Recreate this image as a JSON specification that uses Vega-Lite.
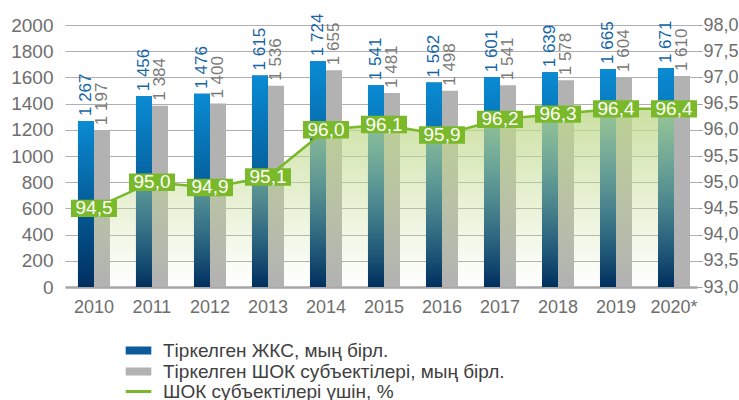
{
  "$schema": "https://vega.github.io/schema/vega-lite/v6.json",
  "width": 632,
  "height": 262,
  "autosize": {"type": "none"},
  "padding": {"left": 65, "top": 25, "right": 42, "bottom": 113},
  "config": {
    "locale": {"number": {"decimal": ",", "thousands": " ", "grouping": [3], "currency": ["", ""]}},
    "view": {"stroke": null},
    "font": "Liberation Sans"
  },
  "datasets": {
    "bars": [
      {"year": "2010", "series": "Тіркелген ЖКС, мың бірл.", "value": 1267},
      {"year": "2010", "series": "Тіркелген ШОК субъектілері, мың бірл.", "value": 1197},
      {"year": "2011", "series": "Тіркелген ЖКС, мың бірл.", "value": 1456},
      {"year": "2011", "series": "Тіркелген ШОК субъектілері, мың бірл.", "value": 1384},
      {"year": "2012", "series": "Тіркелген ЖКС, мың бірл.", "value": 1476},
      {"year": "2012", "series": "Тіркелген ШОК субъектілері, мың бірл.", "value": 1400},
      {"year": "2013", "series": "Тіркелген ЖКС, мың бірл.", "value": 1615},
      {"year": "2013", "series": "Тіркелген ШОК субъектілері, мың бірл.", "value": 1536},
      {"year": "2014", "series": "Тіркелген ЖКС, мың бірл.", "value": 1724},
      {"year": "2014", "series": "Тіркелген ШОК субъектілері, мың бірл.", "value": 1655},
      {"year": "2015", "series": "Тіркелген ЖКС, мың бірл.", "value": 1541},
      {"year": "2015", "series": "Тіркелген ШОК субъектілері, мың бірл.", "value": 1481},
      {"year": "2016", "series": "Тіркелген ЖКС, мың бірл.", "value": 1562},
      {"year": "2016", "series": "Тіркелген ШОК субъектілері, мың бірл.", "value": 1498},
      {"year": "2017", "series": "Тіркелген ЖКС, мың бірл.", "value": 1601},
      {"year": "2017", "series": "Тіркелген ШОК субъектілері, мың бірл.", "value": 1541},
      {"year": "2018", "series": "Тіркелген ЖКС, мың бірл.", "value": 1639},
      {"year": "2018", "series": "Тіркелген ШОК субъектілері, мың бірл.", "value": 1578},
      {"year": "2019", "series": "Тіркелген ЖКС, мың бірл.", "value": 1665},
      {"year": "2019", "series": "Тіркелген ШОК субъектілері, мың бірл.", "value": 1604},
      {"year": "2020*", "series": "Тіркелген ЖКС, мың бірл.", "value": 1671},
      {"year": "2020*", "series": "Тіркелген ШОК субъектілері, мың бірл.", "value": 1610}
    ],
    "pct": [
      {"year": "2010", "series": "ШОК субъектілері үшін, %", "pct": 94.5},
      {"year": "2011", "series": "ШОК субъектілері үшін, %", "pct": 95.0},
      {"year": "2012", "series": "ШОК субъектілері үшін, %", "pct": 94.9},
      {"year": "2013", "series": "ШОК субъектілері үшін, %", "pct": 95.1},
      {"year": "2014", "series": "ШОК субъектілері үшін, %", "pct": 96.0},
      {"year": "2015", "series": "ШОК субъектілері үшін, %", "pct": 96.1},
      {"year": "2016", "series": "ШОК субъектілері үшін, %", "pct": 95.9},
      {"year": "2017", "series": "ШОК субъектілері үшін, %", "pct": 96.2},
      {"year": "2018", "series": "ШОК субъектілері үшін, %", "pct": 96.3},
      {"year": "2019", "series": "ШОК субъектілері үшін, %", "pct": 96.4},
      {"year": "2020*", "series": "ШОК субъектілері үшін, %", "pct": 96.4}
    ]
  },
  "encoding": {
    "x": {
      "field": "year", "type": "nominal", "sort": null,
      "scale": {"domain": ["2010","2011","2012","2013","2014","2015","2016","2017","2018","2019","2020*"], "paddingInner": 0.448, "paddingOuter": 0.172, "align": 0.65},
      "axis": {"title": null, "labelAngle": 0, "ticks": false, "labelPadding": 11, "labelFontSize": 18, "labelColor": "#6e6e6e", "domainColor": "#a6a6a6", "domainWidth": 2.5}
    }
  },
  "layer": [
    {
      "data": {"name": "bars"},
      "encoding": {
        "y": {
          "field": "value", "type": "quantitative",
          "scale": {"domain": [0, 2000], "nice": false, "zero": true},
          "axis": {"title": null, "values": [0,200,400,600,800,1000,1200,1400,1600,1800,2000], "format": "d", "ticks": false, "domain": false, "labelPadding": 12, "labelFontSize": 19, "labelColor": "#6e6e6e", "grid": true, "gridColor": "#b0b0b0", "gridWidth": 1.2}
        },
        "xOffset": {"field": "series", "type": "nominal", "scale": {"domain": ["Тіркелген ЖКС, мың бірл.", "Тіркелген ШОК субъектілері, мың бірл."]}}
      },
      "layer": [
        {
          "mark": {"type": "bar"},
          "encoding": {
            "color": {
              "field": "series", "type": "nominal",
              "scale": {"domain": ["Тіркелген ЖКС, мың бірл.", "Тіркелген ШОК субъектілері, мың бірл."], "range": ["#0a5a9c", "#b2b2b2"]},
              "legend": {"title": null, "orient": "none", "legendX": 64, "legendY": 316, "symbolType": "M-2,-0.625H2V0.625H-2Z", "symbolSize": 164, "symbolStrokeWidth": 0, "symbolOpacity": 1, "labelFontSize": 19, "labelColor": "#404040", "labelOffset": 15, "rowPadding": 1, "padding": 0, "labelLimit": 600}
            }
          }
        },
        {
          "transform": [{"filter": "datum.series === 'Тіркелген ЖКС, мың бірл.'"}],
          "mark": {"type": "bar", "color": {"gradient": "linear", "x1": 0, "y1": 0, "x2": 0, "y2": 1, "stops": [{"offset": 0, "color": "#0a8bd3"}, {"offset": 1, "color": "#002f5e"}]}}
        },
        {
          "mark": {"type": "text", "angle": 270, "align": "left", "baseline": "middle", "dx": 5, "fontSize": 17},
          "encoding": {
            "text": {"field": "value", "type": "quantitative", "format": ",d"},
            "color": {"condition": {"test": "datum.series === 'Тіркелген ЖКС, мың бірл.'", "value": "#1565a8"}, "value": "#7a7a7a"}
          }
        }
      ]
    },
    {
      "data": {"name": "pct"},
      "encoding": {
        "y": {
          "field": "pct", "type": "quantitative",
          "scale": {"domain": [93, 98], "nice": false, "zero": false},
          "axis": {"orient": "right", "title": null, "values": [93,93.5,94,94.5,95,95.5,96,96.5,97,97.5,98], "format": ".1f", "grid": false, "domain": false, "ticks": true, "tickSize": 5, "tickColor": "#a0a0a0", "labelPadding": 1, "labelFontSize": 18, "labelColor": "#6e6e6e"}
        }
      },
      "layer": [
        {
          "mark": {"type": "area", "color": {"gradient": "linear", "x1": 0, "y1": 0, "x2": 0, "y2": 1, "stops": [{"offset": 0, "color": "rgba(190,216,138,0.8)"}, {"offset": 1, "color": "rgba(200,222,150,0)"}]}},
          "encoding": {"y2": {"datum": 93}}
        },
        {
          "mark": {"type": "line", "strokeWidth": 2.5},
          "encoding": {
            "stroke": {
              "field": "series", "type": "nominal",
              "scale": {"domain": ["ШОК субъектілері үшін, %"], "range": ["#7ab929"]},
              "legend": {"title": null, "orient": "none", "legendX": 64, "legendY": 357, "symbolType": "M-2,0H2", "symbolSize": 164, "symbolStrokeWidth": 3, "symbolFillColor": "transparent", "labelFontSize": 19, "labelColor": "#404040", "labelOffset": 15, "padding": 0, "labelLimit": 600}
            }
          }
        },
        {
          "mark": {"type": "point", "shape": "M-1,-0.378H1V0.378H-1Z", "size": 2116, "filled": true, "color": "#7ab929", "opacity": 1}
        },
        {
          "mark": {"type": "text", "color": "white", "fontSize": 19, "align": "center", "baseline": "middle"},
          "encoding": {"text": {"field": "pct", "type": "quantitative", "format": ".1f"}}
        }
      ]
    }
  ],
  "resolve": {"scale": {"y": "independent"}}
}
